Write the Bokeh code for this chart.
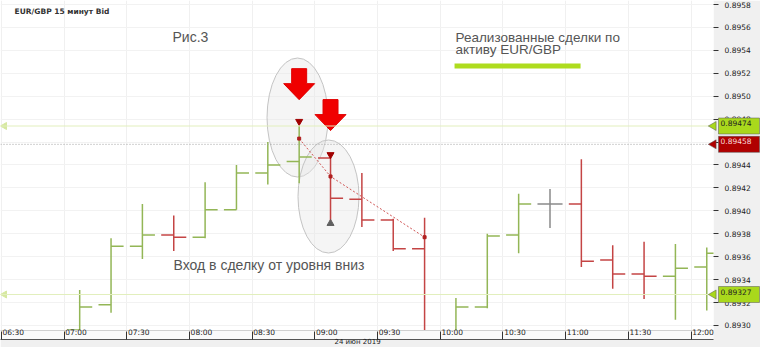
import numpy as np
import pandas as pd
from bokeh.plotting import figure
from bokeh.models import (Range1d, FixedTicker, NumeralTickFormatter, Span,
                          ColumnDataSource, DatetimeAxis)
from bokeh.core.properties import value
from bokeh.embed import file_html
from bokeh.resources import INLINE

DAY = "2019-06-24"

# ---------------- data ----------------
bar_starts = ["07:00", "07:15", "07:30", "07:45", "08:00", "08:15", "08:30", "08:45",
              "09:00", "09:15", "09:30", "09:45", "10:00", "10:15", "10:30", "10:45",
              "11:00", "11:15", "11:30", "11:45", "12:00"]
opens = [0.89296, 0.89318, 0.89369, 0.89379, 0.89377, 0.89401, 0.89433, 0.89443,
         0.89446, 0.89410, 0.89392, 0.89367, 0.89295, 0.89316, 0.89379, 0.89406,
         0.89406, 0.89357, 0.89345, 0.89343, 0.89351]
highs = [0.89331, 0.89376, 0.89406, 0.89396, 0.89425, 0.89440, 0.89460, 0.89474,
         0.89446, 0.89433, 0.89393, 0.89394, 0.89324, 0.89380, 0.89415, 0.89419,
         0.89445, 0.89370, 0.89373, 0.89371, 0.89368]
lows = [0.89290, 0.89311, 0.89358, 0.89365, 0.89376, 0.89401, 0.89423, 0.89424,
        0.89390, 0.89386, 0.89365, 0.89290, 0.89290, 0.89315, 0.89363, 0.89385,
        0.89351, 0.89332, 0.89323, 0.89305, 0.89313]
closes = [0.89316, 0.89369, 0.89379, 0.89377, 0.89401, 0.89433, 0.89440, 0.89447,
          0.89411, 0.89392, 0.89367, 0.89294, 0.89316, 0.89378, 0.89406, 0.89406,
          0.89356, 0.89345, 0.89343, 0.89350, 0.89363]

time_ticks = ["06:30", "07:00", "07:30", "08:00", "08:30", "09:00", "09:30",
              "10:00", "10:30", "11:00", "11:30", "12:00"]
price_ticks = [0.8930, 0.8932, 0.8934, 0.8936, 0.8938, 0.8940, 0.8942, 0.8944,
               0.8946, 0.8948, 0.8950, 0.8952, 0.8954, 0.8956, 0.8958]
date_label = "24 июн 2019"
date_t = ["09:20:25"]
date_p = [0.892852]
title_text = "EUR/GBP  15 минут Bid"

# horizontal price levels
level_green = [0.89474, 0.89327]
level_red = [0.89458]

# annotations (time, price)
ellipse_t = ["08:51:43", "09:06:32"]
ellipse_p = [0.894814, 0.894125]
arrow_t = ["08:52:30", "09:07:30"]
arrow_p = [0.89497, 0.89470]
sell_t = ["08:52:30", "09:07:30"]
sell_p = [0.89478, 0.89449]
exit_t = ["09:07:30"]
exit_p = [0.89389]
trade_t = ["08:52:30", "09:07:30", "09:52:30"]
trade_p = [0.89463, 0.89430, 0.89377]

fig_t = ["07:51:55"]
fig_p = [0.895515]
fig_txt = ["Рис.3"]
entry_t = ["07:52:24"]
entry_p = [0.893530]
entry_txt = ["Вход в сделку от уровня вниз"]
deals_t = ["10:07:19", "10:07:19"]
deals_p = [0.895515, 0.895405]
deals_txt = ["Реализованные сделки по", "активу EUR/GBP"]
underline_t = ["10:06:50", "11:07:07"]
underline_p = [0.895263]
title_t = ["06:36:20"]
title_p = [0.895738]


def ms(s):
    return pd.Timestamp(f"{DAY} {s}").value / 1e6


x_start, x_end = ms("06:29:37"), ms("12:10:43")
y_start, y_end = 0.892956, 0.895835
FRAME_W, FRAME_H = 713, 330
MS_PX = (x_end - x_start) / FRAME_W
P_PX = (y_end - y_start) / FRAME_H
HALF = 7.5 * 60000
TICK = 6 * 60000
LABEL_SHIFT = 12 * MS_PX   # tick labels sit just right of their tick mark

GREEN = "#93B656"
RED = "#C44444"
GRAY = "#8A8A8A"
FONT = "Liberation Sans"
AXFONT = "DejaVu Sans"

p = figure(width=760, height=347, x_axis_type="datetime", y_axis_location="right",
           x_range=Range1d(x_start, x_end), y_range=Range1d(y_start, y_end),
           output_backend="svg", toolbar_location=None,
           min_border_left=0, min_border_top=0, min_border_right=47, min_border_bottom=17,
           background_fill_color="white", border_fill_color="#f0f0f0",
           outline_line_color=None)

tick_ms = [ms(t) for t in time_ticks]

# grid
p.xgrid.ticker = FixedTicker(ticks=tick_ms)
p.xgrid.grid_line_color = "#f0f0f0"
p.ygrid.ticker = FixedTicker(ticks=price_ticks)
p.ygrid.grid_line_color = "#f2f2f2"

# right price axis
ya = p.yaxis[0]
ya.ticker = FixedTicker(ticks=price_ticks)
ya.formatter = NumeralTickFormatter(format="0.0000")
ya.major_tick_out = 5
ya.major_tick_in = 0
ya.minor_tick_out = 0
ya.minor_tick_in = 0
ya.major_tick_line_color = "#333333"
ya.axis_line_color = None
ya.major_label_standoff = 6
ya.major_label_text_font = AXFONT
ya.major_label_text_font_size = "7.5px"
ya.major_label_text_color = "#222222"

# bottom time axis: labels placed just right of the tick marks
label_pos = [t + LABEL_SHIFT for t in tick_ms]
xa = p.xaxis[0]
xa.ticker = FixedTicker(ticks=label_pos)
xa.major_label_overrides = {lp: t for lp, t in zip(label_pos, time_ticks)}
xa.major_tick_out = 0
xa.major_tick_in = 0
xa.minor_tick_out = 0
xa.minor_tick_in = 0
xa.axis_line_color = "#d0d0d0"
xa.major_label_standoff = -3
xa.major_label_text_font = AXFONT
xa.major_label_text_font_size = "7.5px"
xa.major_label_text_color = "#222222"
xa.background_fill_color = "#fafafa"

# second bottom axis: its line closes the time band, its tick marks point up into it
xa2 = DatetimeAxis(ticker=FixedTicker(ticks=[], minor_ticks=tick_ms),
                   major_tick_out=0, major_tick_in=0, minor_tick_out=0, minor_tick_in=8,
                   minor_tick_line_color="#333333", major_label_standoff=0,
                   axis_line_color="#555555")
p.add_layout(xa2, "below")

# date below the time band (overlay level so it is not clipped to the frame)
p.text(x=[ms(t) for t in date_t], y=date_p, text=[date_label], text_font=value(AXFONT),
       text_font_size="7px", text_color="#222222", text_align="center",
       text_baseline="middle", level="overlay")

# level lines
for lv in level_green:
    p.add_layout(Span(location=lv, dimension="width", line_color="#e2efbd", line_width=1))
for lv in level_red:
    p.add_layout(Span(location=lv, dimension="width", line_color="#a0a0a0", line_width=1,
                      line_dash="1 2"))

# left edge small arrows
p.scatter(x=[x_start + 4 * MS_PX] * len(level_green), y=level_green, marker="triangle",
          angle=np.pi / 2, size=7, fill_color="#d6e8a0", line_color="#d6e8a0")

# ellipses
p.ellipse(x=[ms(t) for t in ellipse_t], y=ellipse_p, width=61, height=[119, 113],
          width_units="screen", height_units="screen",
          fill_color="#e6e6e6", fill_alpha=0.4, line_color="#c4c4c4", line_width=1)

# OHLC bars
xc = np.array([ms(t) + HALF for t in bar_starts])
cols = [GREEN if c > o else (RED if c < o else GRAY) for o, c in zip(opens, closes)]
src = ColumnDataSource(dict(x=xc, xl=xc - TICK, xr=xc + TICK, o=opens, h=highs,
                            l=lows, c=closes, col=cols))
p.segment(x0="x", y0="l", x1="x", y1="h", source=src, line_color="col", line_width=1.5)
p.segment(x0="xl", y0="o", x1="x", y1="o", source=src, line_color="col", line_width=1.5)
p.segment(x0="x", y0="c", x1="xr", y1="c", source=src, line_color="col", line_width=1.5)

# trade line
tx = [ms(t) for t in trade_t]
p.line(x=tx, y=trade_p, line_color="#D05555", line_width=1, line_dash="2 2")
p.scatter(x=tx, y=trade_p, marker="square", size=3, color="#B02020")

# sell / exit markers
p.scatter(x=[ms(t) for t in sell_t], y=sell_p, marker="inverted_triangle", size=7,
          fill_color="#A00000", line_color="#A00000")
p.scatter(x=[ms(t) for t in exit_t], y=exit_p, marker="triangle", size=7,
          fill_color="#606060", line_color="#606060")

# big red arrows
shape = [(-7.5, 31), (7.5, 31), (7.5, 16), (15.5, 16), (0, 0), (-15.5, 16), (-7.5, 16)]
axs, ays = [], []
for t, pr in zip(arrow_t, arrow_p):
    axs.append([ms(t) + dx * MS_PX for dx, dy in shape])
    ays.append([pr + dy * P_PX for dx, dy in shape])
p.patches(xs=axs, ys=ays, fill_color="#F00000", line_color="#E00000", line_width=1)

# texts
p.text(x=[ms(t) for t in title_t], y=title_p, text=[title_text], text_font=value(AXFONT),
       text_font_size="7.5px", text_font_style="bold", text_color="#333333",
       text_baseline="middle")
p.text(x=[ms(t) for t in fig_t], y=fig_p, text=fig_txt, text_font=value(FONT),
       text_font_size="14px", text_color="#555555", text_baseline="middle")
p.text(x=[ms(t) for t in entry_t], y=entry_p, text=entry_txt, text_font=value(FONT),
       text_font_size="14px", text_color="#555555", text_baseline="middle")
p.text(x=[ms(t) for t in deals_t], y=deals_p, text=deals_txt, text_font=value(FONT),
       text_font_size="13.5px", text_color="#555555", text_baseline="middle")
p.segment(x0=[ms(underline_t[0])], y0=underline_p, x1=[ms(underline_t[1])], y1=underline_p,
          line_color="#AEDC1E", line_width=5)

# price boxes on the right axis (drawn on the overlay level, outside the frame)
box_p = [level_green[0], level_red[0], level_green[1]]
box_bg = ["#A9D81C", "#B00000", "#A9D81C"]
box_fg = ["#222222", "#F8D8D8", "#222222"]
bsrc = ColumnDataSource(dict(x=[x_end] * 3, y=box_p, t=[f"{v:.5f}" for v in box_p],
                             bg=box_bg, fg=box_fg))
p.scatter(x="x", y="y", source=bsrc, marker="triangle", angle=np.pi / 2, size=9,
          fill_color="bg", line_color="#555555", line_width=0.5, level="overlay")
p.text(x="x", y="y", text="t", source=bsrc, x_offset=5, text_font=value(AXFONT),
       text_font_size="7.5px", text_color="fg", text_baseline="middle", text_align="left",
       background_fill_color="bg", border_line_color="#555555", border_line_width=0.5,
       padding=(2, 8, 2, 8), level="overlay")

open("out.html", "w").write(file_html(p, INLINE))
